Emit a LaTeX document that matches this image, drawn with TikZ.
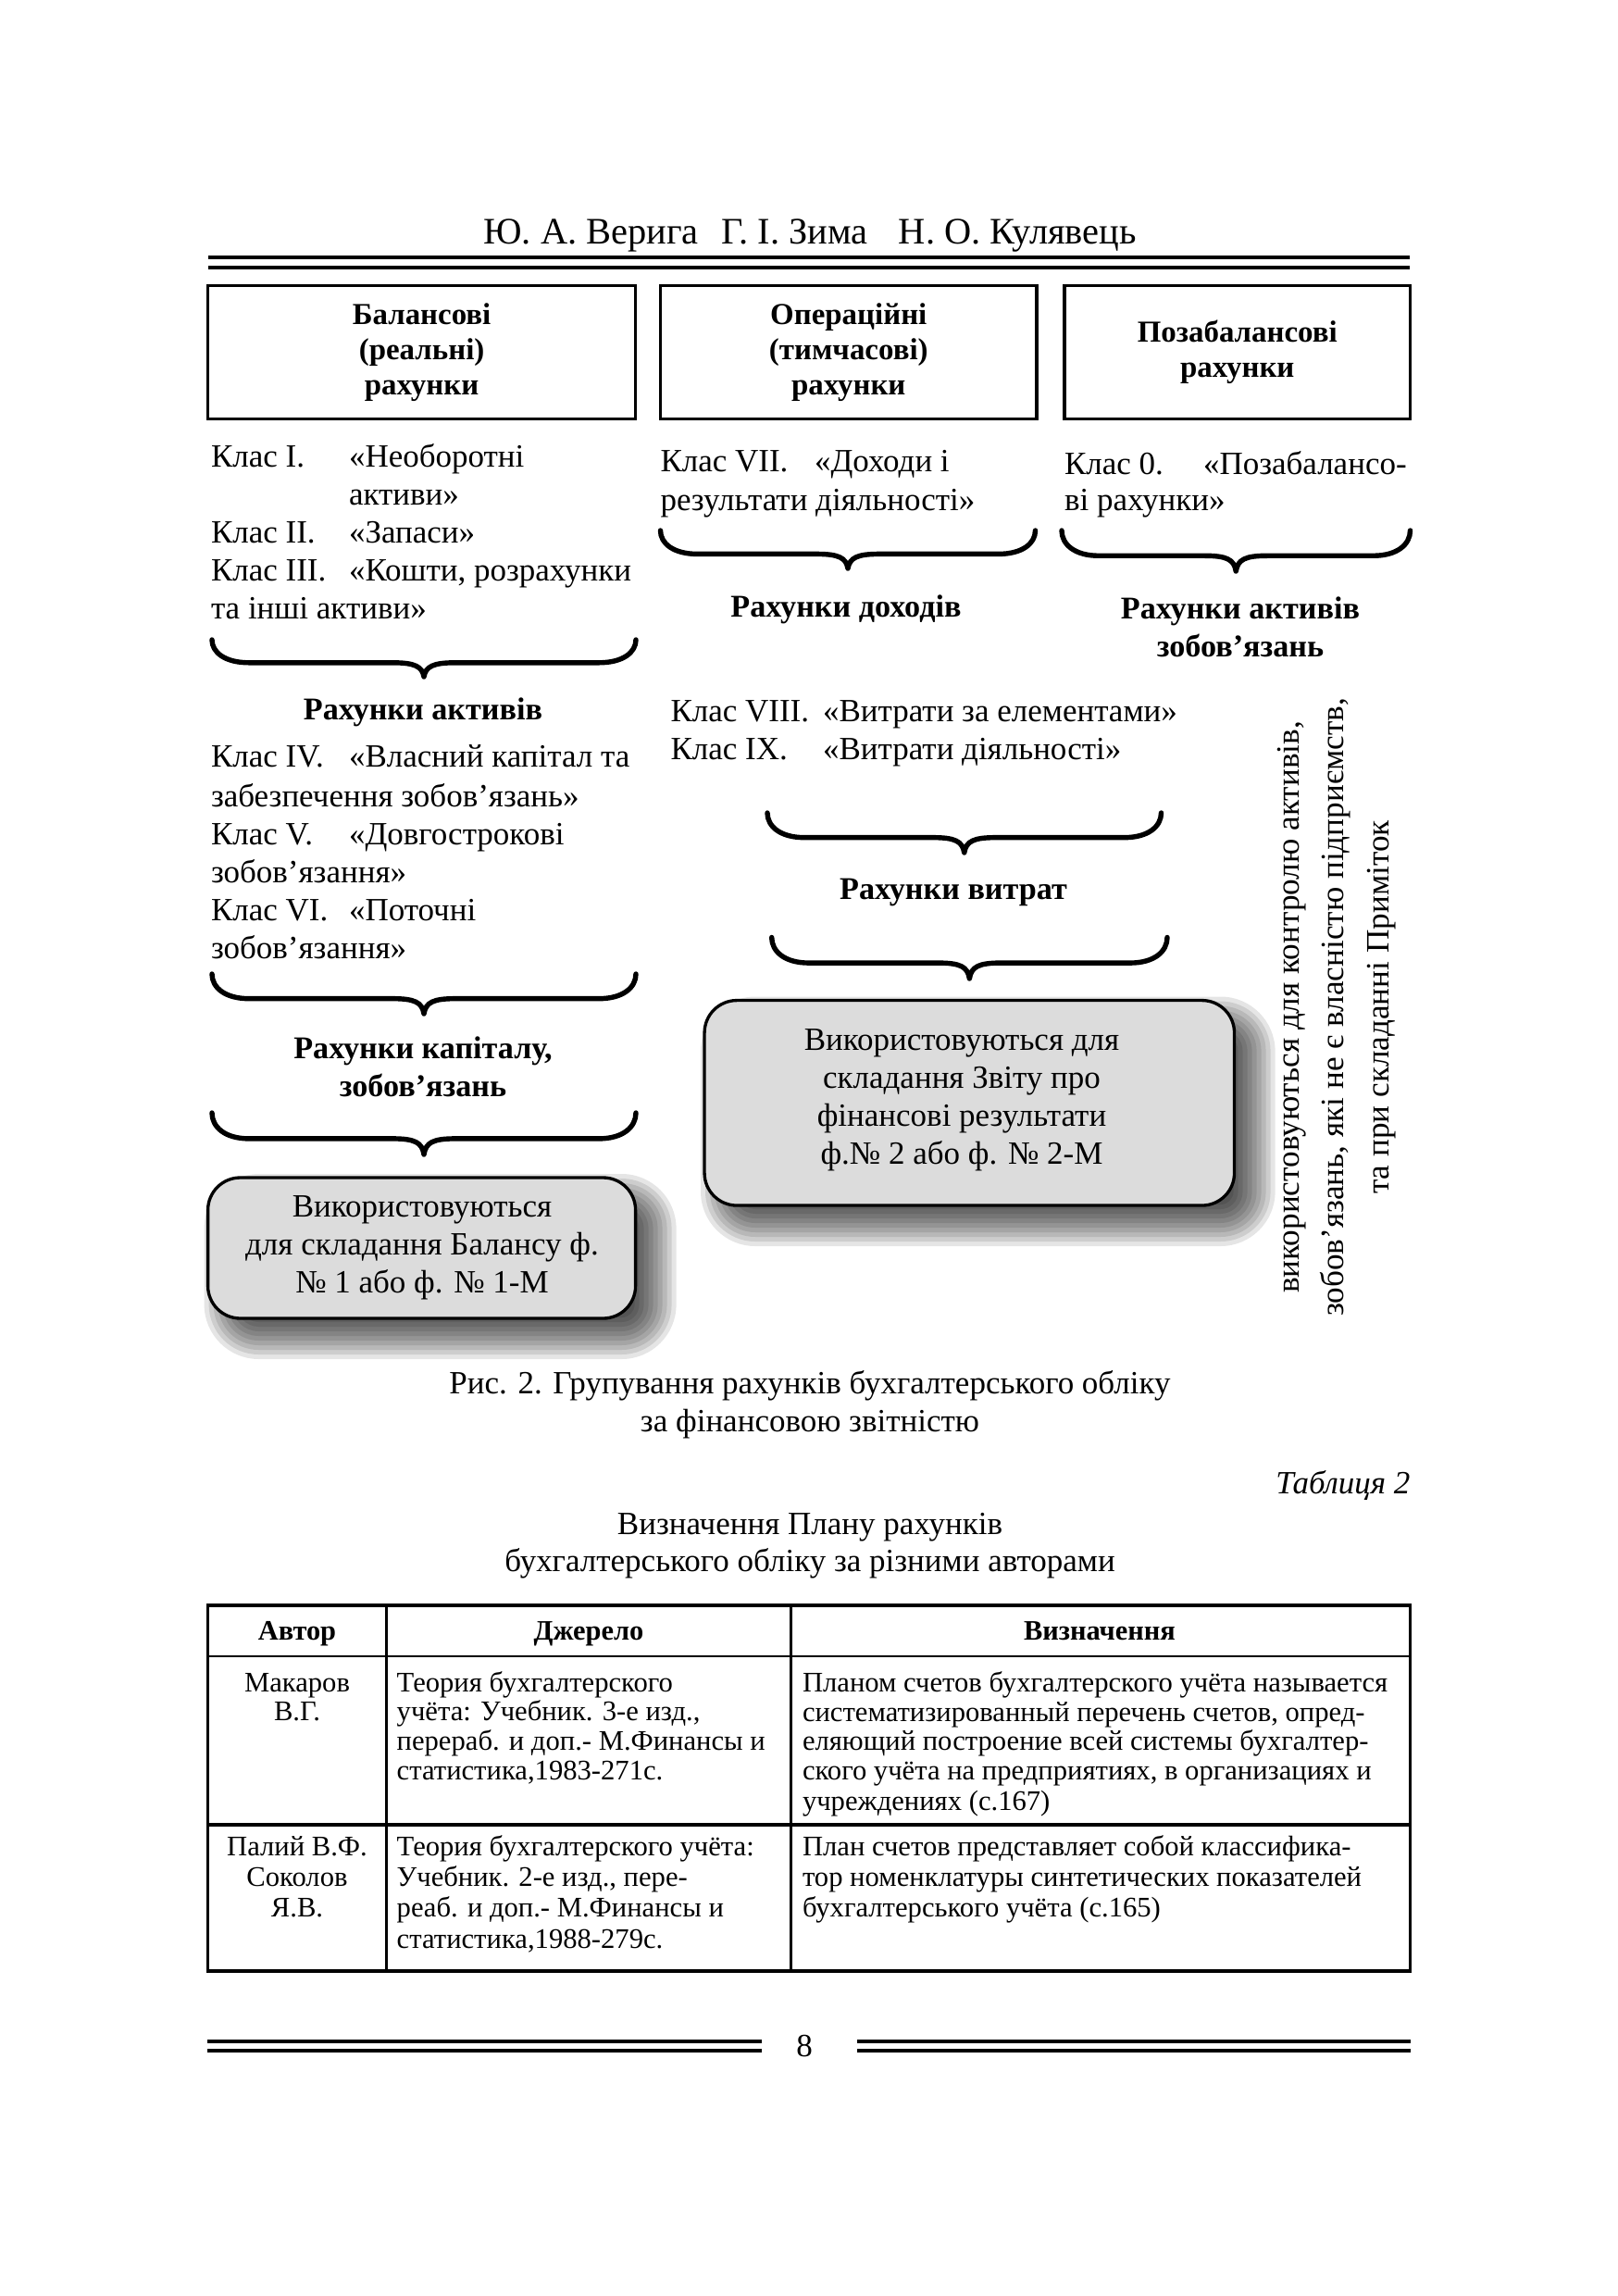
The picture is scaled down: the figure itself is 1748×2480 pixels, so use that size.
\documentclass[tikz,border=0pt]{standalone}
\usepackage{fontspec}
\setmainfont{Liberation Serif}
\definecolor{boxgray}{RGB}{220,220,220}
\newcommand{\cbrace}[4]{%
  \pgfmathsetmacro{\bm}{(#1+#2)/2}%
  \pgfmathsetmacro{\bh}{#3+0.62*(#4-#3)}%
  \pgfmathsetmacro{\bc}{#3+0.55*0.62*(#4-#3)}%
  \draw[bracesty] (#1,#3) .. controls (#1,\bc) and (#1+14,\bh) .. (#1+40,\bh)
    -- (\bm-34,\bh) .. controls (\bm-10,\bh) and (\bm-2,\bh+4) .. (\bm,#4)
    .. controls (\bm+2,\bh+4) and (\bm+10,\bh) .. (\bm+34,\bh)
    -- (#2-40,\bh) .. controls (#2-14,\bh) and (#2,\bc) .. (#2,#3);}
\newcommand{\softshadow}[4]{%
  \foreach \e in {24,19,...,-21}{%
    \pgfmathsetmacro{\rc}{max(2,(35+\e)*0.24)}%
    \fill[black,fill opacity=0.1,rounded corners=\rc pt]
      ({#1+20-\e},{#2+20-\e}) rectangle ({#3+20+\e},{#4+20+\e});}}
\begin{document}
\begin{tikzpicture}[x=0.24pt,y=-0.24pt,
  every node/.style={inner sep=0pt,outer sep=0pt},
  bodytxt/.style={font=\fontsize{8.4}{10}\selectfont,anchor=base west},
  boldlbl/.style={font=\fontsize{8.2}{9.8}\selectfont\bfseries,anchor=base},
  headbox/.style={draw,line width=0.8pt,font=\fontsize{7.9}{9.1}\selectfont\bfseries,align=center,minimum height=34.56pt},
  bracesty/.style={line width=1.3pt,line cap=round,line join=round},
  roundbox/.style={draw,line width=0.8pt,rounded corners=8.4pt,fill=boxgray},
  boxtxt/.style={font=\fontsize{8.4}{9.85}\selectfont,align=center},
  captxt/.style={font=\fontsize{8.4}{9.8}\selectfont,anchor=base},
  tabtxt/.style={font=\fontsize{7.35}{7.6}\selectfont,anchor=base west},
  tabctr/.style={font=\fontsize{7.35}{7.6}\selectfont,anchor=base},
  tabhead/.style={font=\fontsize{7.3}{7.6}\selectfont\bfseries,anchor=base},
  thickrule/.style={line width=1.1pt},
  thinrule/.style={line width=0.8pt}
]
\useasboundingbox (0,0) rectangle (1748,2480);
\fill[white] (0,0) rectangle (1748,2480);

% running head
\node[font=\fontsize{9.7}{11}\selectfont,anchor=base] (title) at (875,263)
  {Ю.~А.~Верига\hspace*{6pt}Г.~І.~Зима\hspace*{8pt}Н.~О.~Кулявець};
\draw[thickrule] (225,278) -- (1523,278);
\draw[thinrule] (225,289) -- (1523,289);

% header boxes
\node[headbox,minimum width=110.88pt] (b1) at (455.6,380.5) {Балансові\\(реальні)\\рахунки};
\node[headbox,minimum width=97.56pt] (b2) at (916.8,380.5) {Операційні\\(тимчасові)\\рахунки};
\node[headbox,minimum width=89.64pt] (b3) at (1336.8,380.5) {Позабалансові\\рахунки};

% left column
\node[bodytxt] (l1a) at (228,504) {Клас І.};
\node[bodytxt] (l1b) at (377,504) {«Необоротні};
\node[bodytxt] (l2b) at (377,545) {активи»};
\node[bodytxt] (l3a) at (228,586) {Клас ІІ.};
\node[bodytxt] (l3b) at (377,586) {«Запаси»};
\node[bodytxt] (l4a) at (228,627) {Клас ІІІ.};
\node[bodytxt] (l4b) at (377,627) {«Кошти, розрахунки};
\node[bodytxt] (l5a) at (228,668) {та інші активи»};
\cbrace{229}{687}{691}{731}
\node[boldlbl] (ra) at (457,777) {Рахунки активів};
\node[bodytxt] (l6a) at (228,828) {Клас IV.};
\node[bodytxt] (l6b) at (377,828) {«Власний капітал та};
\node[bodytxt] (l7a) at (228,871) {забезпечення зобов’язань»};
\node[bodytxt] (l8a) at (228,912) {Клас V.};
\node[bodytxt] (l8b) at (377,912) {«Довгострокові};
\node[bodytxt] (l9a) at (228,953) {зобов’язання»};
\node[bodytxt] (l10a) at (228,994) {Клас VI.};
\node[bodytxt] (l10b) at (377,994) {«Поточні};
\node[bodytxt] (l11a) at (228,1035) {зобов’язання»};
\cbrace{229}{687}{1052}{1095}
\node[boldlbl] (rk1) at (457,1143) {Рахунки капіталу,};
\node[boldlbl] (rk2) at (457,1184) {зобов’язань};
\cbrace{229}{687}{1202}{1247}
\softshadow{224.6}{1272}{686.6}{1424}
\node[roundbox,minimum width=110.88pt,minimum height=36.48pt] (bl) at (455.6,1348) {};
\node[boxtxt] (blt) at (456,1348) {Використовуються\\для складання Балансу ф.\\№ 1 або ф. № 1-М};

% middle column
\node[bodytxt] (m1a) at (713.5,509) {Клас VII.};
\node[bodytxt] (m1b) at (880,509) {«Доходи і};
\node[bodytxt] (m2a) at (713.5,551) {результати діяльності»};
\cbrace{713.5}{1118.5}{573}{614}
\node[boldlbl] (rd) at (914,666) {Рахунки доходів};
\node[bodytxt] (m3a) at (724.5,779) {Клас VIII.};
\node[bodytxt] (m3b) at (889,779) {«Витрати за елементами»};
\node[bodytxt] (m4a) at (724.5,820) {Клас IX.};
\node[bodytxt] (m4b) at (889,820) {«Витрати діяльності»};
\cbrace{829}{1254.5}{878}{921}
\node[boldlbl] (rv) at (1030,971) {Рахунки витрат};
\cbrace{833.7}{1261}{1012.5}{1057}
\softshadow{761}{1080.5}{1333.6}{1302}
\node[roundbox,minimum width=137.4pt,minimum height=53.16pt] (bm) at (1047.3,1191.3) {};
\node[boxtxt] (bmt) at (1039,1188) {Використовуються для\\складання Звіту про\\фінансові результати\\ф.№ 2 або ф. № 2-М};

% right column
\node[bodytxt] (r1a) at (1150,512) {Клас 0.};
\node[bodytxt] (r1b) at (1300,512) {«Позабалансо-};
\node[bodytxt] (r2a) at (1150,551) {ві рахунки»};
\cbrace{1147}{1523.5}{573}{617}
\node[boldlbl] (rz1) at (1340,668) {Рахунки активів};
\node[boldlbl] (rz2) at (1340,709) {зобов’язань};
\node[rotate=90,align=center,font=\fontsize{8.45}{11.6}\selectfont] (vt) at (1444,1088)
  {використовуються для контролю активів,\\зобов’язань, які не є власністю підприємств,\\та при складанні Приміток};

% caption
\node[captxt] (cap1) at (875,1505) {Рис. 2. Групування рахунків бухгалтерського обліку};
\node[captxt] (cap2) at (875,1546) {за фінансовою звітністю};
\node[font=\fontsize{8.4}{9.8}\selectfont\itshape,anchor=base east] (tabno) at (1523.5,1613) {Таблиця 2};
\node[captxt] (tt1) at (875,1657) {Визначення Плану рахунків};
\node[captxt] (tt2) at (875,1697) {бухгалтерського обліку за різними авторами};

% table
\draw[line width=0.9pt] (224.6,1734) rectangle (1523.5,2129);
\draw[line width=0.6pt] (417.6,1734) -- (417.6,2129);
\draw[line width=0.6pt] (854.3,1734) -- (854.3,2129);
\draw[line width=0.7pt] (224.6,1789) -- (1523.5,1789);
\draw[line width=0.9pt] (224.6,1971) -- (1523.5,1971);
\node[tabhead] (h1) at (321,1771) {Автор};
\node[tabhead] (h2) at (636,1771) {Джерело};
\node[tabhead] (h3) at (1188,1771) {Визначення};
\node[tabctr] (a1) at (321,1827) {Макаров};
\node[tabctr] (a2) at (321,1858) {В.Г.};
\node[tabtxt] (s1) at (428.7,1827) {Теория бухгалтерского};
\node[tabtxt] (s2) at (428.7,1858) {учёта: Учебник. 3-е изд.,};
\node[tabtxt] (s3) at (428.7,1890) {перераб. и доп.- М.Финансы и};
\node[tabtxt] (s4) at (428.7,1922) {статистика,1983-271с.};
\node[tabtxt] (d1) at (867,1827) {Планом счетов бухгалтерского учёта называется};
\node[tabtxt] (d2) at (867,1859) {систематизированный перечень счетов, опред-};
\node[tabtxt] (d3) at (867,1890) {еляющий построение всей системы бухгалтер-};
\node[tabtxt] (d4) at (867,1922) {ского учёта на предприятиях, в организациях и};
\node[tabtxt] (d5) at (867,1955) {учреждениях (с.167)};
\node[tabctr] (a3) at (321,2004) {Палий В.Ф.};
\node[tabctr] (a4) at (321,2037) {Соколов};
\node[tabctr] (a5) at (321,2070) {Я.В.};
\node[tabtxt] (s5) at (428.7,2004) {Теория бухгалтерского учёта:};
\node[tabtxt] (s6) at (428.7,2037) {Учебник. 2-е изд., пере-};
\node[tabtxt] (s7) at (428.7,2070) {реаб. и доп.- М.Финансы и};
\node[tabtxt] (s8) at (428.7,2104) {статистика,1988-279с.};
\node[tabtxt] (d6) at (867,2004) {План счетов представляет собой классифика-};
\node[tabtxt] (d7) at (867,2037) {тор номенклатуры синтетических показателей};
\node[tabtxt] (d8) at (867,2070) {бухгалтерського учёта (с.165)};

% footer
\draw[thickrule] (224,2205) -- (823,2205);
\draw[thinrule] (224,2215) -- (823,2215);
\draw[thickrule] (926,2205) -- (1524,2205);
\draw[thinrule] (926,2215) -- (1524,2215);
\node[font=\fontsize{8.4}{10}\selectfont,anchor=base] (pg) at (869,2221) {8};
\end{tikzpicture}
\end{document}
